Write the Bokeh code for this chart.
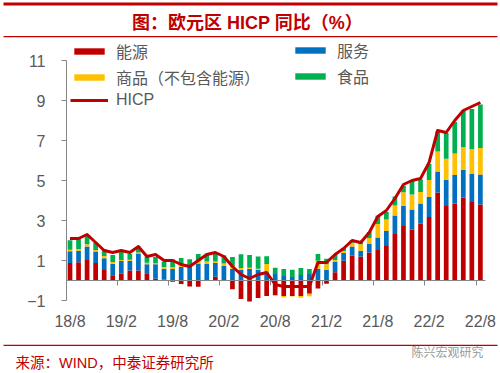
from bokeh.plotting import figure
from bokeh.models import (ColumnDataSource, Range1d, FixedTicker, LinearAxis, Legend,
                          LegendItem, Label, BoxAnnotation)
from bokeh.embed import file_html
from bokeh.resources import INLINE

# ---------------- data ----------------
months = ["18/8", "18/9", "18/10", "18/11", "18/12",
          "19/1", "19/2", "19/3", "19/4", "19/5", "19/6", "19/7", "19/8", "19/9", "19/10", "19/11", "19/12",
          "20/1", "20/2", "20/3", "20/4", "20/5", "20/6", "20/7", "20/8", "20/9", "20/10", "20/11", "20/12",
          "21/1", "21/2", "21/3", "21/4", "21/5", "21/6", "21/7", "21/8", "21/9", "21/10", "21/11", "21/12",
          "22/1", "22/2", "22/3", "22/4", "22/5", "22/6", "22/7", "22/8"]

energy = [0.88, 0.91, 1.03, 0.87, 0.53, 0.26, 0.34, 0.50, 0.50, 0.36, 0.09, 0.05, -0.06, -0.17, -0.30, -0.31,
          0.02, 0.19, -0.03, -0.44, -0.92, -1.05, -0.87, -0.78, -0.74, -0.77, -0.77, -0.78, -0.66, -0.40, -0.16,
          0.41, 0.99, 1.24, 1.20, 1.40, 1.53, 1.72, 2.33, 2.72, 2.55, 2.85, 3.17, 4.40, 3.72, 3.85, 4.15, 3.93, 3.80]
services = [0.58, 0.58, 0.67, 0.58, 0.58, 0.58, 0.63, 0.49, 0.85, 0.45, 0.72, 0.54, 0.58, 0.67, 0.67, 0.85,
            0.80, 0.68, 0.72, 0.59, 0.54, 0.59, 0.54, 0.41, 0.32, 0.23, 0.18, 0.27, 0.32, 0.59, 0.54,
            0.54, 0.38, 0.46, 0.29, 0.43, 0.62, 0.75, 0.92, 1.02, 1.00, 1.00, 1.02, 1.05, 1.32, 1.42, 1.38, 1.40, 1.50]
goods = [0.08, 0.08, 0.11, 0.08, 0.11, 0.08, 0.05, 0.05, 0.05, 0.08, 0.05, 0.08, 0.08, 0.08, 0.08, 0.11,
         0.13, 0.08, 0.13, 0.13, 0.08, 0.05, 0.05, 0.42, -0.03, -0.08, -0.03, -0.08, -0.13, 0.40, 0.27,
         0.08, 0.11, 0.19, 0.32, 0.30, 0.67, 0.58, 0.50, 0.67, 0.75, 0.58, 0.83, 1.00, 1.05, 1.08, 1.13, 1.25, 1.33]
food = [0.47, 0.51, 0.43, 0.37, 0.35, 0.35, 0.45, 0.29, 0.29, 0.31, 0.31, 0.27, 0.39, 0.37, 0.31, 0.37,
        0.39, 0.42, 0.40, 0.46, 0.69, 0.63, 0.61, 0.38, 0.32, 0.34, 0.36, 0.36, 0.25, 0.33, 0.28,
        0.24, 0.15, 0.13, 0.11, 0.30, 0.42, 0.38, 0.45, 0.33, 0.70, 0.62, 0.80, 1.00, 1.29, 1.58, 1.83, 2.00, 2.17]
hicp = [2.1, 2.1, 2.3, 1.9, 1.5, 1.4, 1.5, 1.4, 1.7, 1.2, 1.3, 1.0, 1.0, 0.8, 0.7, 1.0,
        1.3, 1.4, 1.2, 0.7, 0.3, 0.1, 0.3, 0.4, -0.2, -0.3, -0.3, -0.3, -0.3, 0.9, 0.9,
        1.3, 1.6, 2.0, 1.9, 2.4, 3.2, 3.5, 4.1, 4.8, 5.0, 5.1, 5.9, 7.5, 7.4, 8.0, 8.5, 8.7, 8.9]

series_names = ["能源", "服务", "商品（不包含能源）", "食品"]
series_colors = ["#C00000", "#0070C0", "#FFC000", "#00B050"]
line_name = "HICP"
line_color = "#C00000"

tick_labels = ["18/8", "19/2", "19/8", "20/2", "20/8", "21/2", "21/8", "22/2", "22/8"]
y_ticks = [-1, 1, 3, 5, 7, 9, 11]

title_text = "图：欧元区 HICP 同比（%）"
source_text = "来源：WIND，中泰证券研究所"
mark_text = "陈兴宏观研究"

FONT = "Liberation Sans, Noto Sans CJK SC"
RED = "#C00000"
GREY = "#595959"
AXIS = "#868686"

# ---------------- layout constants (pixels) ----------------
W, H = 500, 373
PX0, PXSTEP = 69.5, 8.55      # pixel of first bar, pixels per month
PY0, PYSTEP = 280.0, 20.0     # pixel of value 0, pixels per unit

n = len(months)
xs = list(range(n))

x_start = (0 - PX0) / PXSTEP
x_end = (W - PX0) / PXSTEP
y_end = PY0 / PYSTEP
y_start = (PY0 - H) / PYSTEP
x_axis_pos = (66 - PX0) / PXSTEP   # y-axis line location

p = figure(width=W, height=H, x_range=Range1d(x_start, x_end), y_range=Range1d(y_start, y_end),
           output_backend="svg", toolbar_location=None,
           x_axis_location=None, y_axis_location=None,
           min_border=0, min_border_left=0, min_border_right=0, min_border_top=0, min_border_bottom=0)
p.outline_line_color = None
p.grid.visible = False
p.background_fill_color = "white"
p.border_fill_color = "white"

pos = [0.0] * n
neg = [0.0] * n
rends = []
for vals, col in zip([energy, services, goods, food], series_colors):
    b, t = [], []
    for i, v in enumerate(vals):
        if v >= 0:
            b.append(pos[i]); pos[i] += v; t.append(pos[i])
        else:
            b.append(neg[i]); neg[i] += v; t.append(neg[i])
    src = ColumnDataSource(dict(x=xs, bottom=b, top=t))
    rends.append(p.vbar(x="x", bottom="bottom", top="top", width=0.55, fill_color=col,
                        line_color=None, source=src))

r_line = p.line(xs, hicp, line_color=line_color, line_width=3, line_join="round")

# ---------------- axes (fixed inside the frame) ----------------
label_idx = [months.index(l) for l in tick_labels]
xa = LinearAxis(fixed_location=y_ticks[0], ticker=FixedTicker(ticks=label_idx),
                major_label_overrides={i: l for i, l in zip(label_idx, tick_labels)},
                axis_line_color=None, major_tick_line_color=None, minor_tick_line_color=None,
                major_tick_out=0, major_tick_in=0, minor_tick_out=0, minor_tick_in=0,
                major_label_standoff=12, major_label_text_font=FONT,
                major_label_text_font_size="16px", major_label_text_color=GREY)
p.add_layout(xa, "below")

sep_ticks = [i - 0.5 for i in label_idx[1:]]
zax = LinearAxis(fixed_location=0, ticker=FixedTicker(ticks=sep_ticks), bounds=(x_axis_pos, n - 0.41),
                 major_tick_out=5, major_tick_in=0, minor_tick_out=0, minor_tick_in=0,
                 axis_line_color=AXIS, major_tick_line_color=AXIS, minor_tick_line_color=None,
                 major_label_text_font_size="0px", major_label_text_color=None)
p.add_layout(zax, "below")

ya = LinearAxis(fixed_location=x_axis_pos, ticker=FixedTicker(ticks=y_ticks), bounds=(y_ticks[0], y_ticks[-1]),
                axis_line_color=AXIS, major_tick_line_color=AXIS, minor_tick_line_color=None,
                major_tick_out=5, major_tick_in=0, minor_tick_out=0, minor_tick_in=0,
                major_label_standoff=16, major_label_text_font=FONT,
                major_label_text_font_size="16px", major_label_text_color=GREY)
p.add_layout(ya, "left")

# ---------------- legends ----------------
leg_kw = dict(orientation="vertical", glyph_width=38, glyph_height=8, label_height=8, spacing=2,
              padding=0, margin=0, border_line_color=None, background_fill_alpha=0,
              label_text_font=FONT, label_text_font_size="16px", label_text_color=GREY,
              label_standoff=8)
leg1 = Legend(items=[LegendItem(label=series_names[0], renderers=[rends[0]]),
                     LegendItem(label=series_names[2], renderers=[rends[2]]),
                     LegendItem(label=line_name, renderers=[r_line])],
              location=(70, H - 109), **leg_kw)
leg2 = Legend(items=[LegendItem(label=series_names[1], renderers=[rends[1]]),
                     LegendItem(label=series_names[3], renderers=[rends[3]])],
              location=(291, H - 88), **leg_kw)
p.add_layout(leg1)
p.add_layout(leg2)

# ---------------- decorations (screen units: x = page x, y = H - page y) ----------------
def hline(page_top, page_bot):
    return BoxAnnotation(left=3, right=497, top=H - page_top, bottom=H - page_bot,
                         left_units="screen", right_units="screen", top_units="screen", bottom_units="screen",
                         fill_color=RED, fill_alpha=1, line_color=None)

p.add_layout(hline(2, 5))
p.add_layout(hline(35.5, 36.8))
p.add_layout(hline(344.3, 345.6))

p.add_layout(Label(x=247, y=H - 22, x_units="screen", y_units="screen", text=title_text,
                   text_align="center", text_baseline="middle", text_font=FONT,
                   text_font_size="18px", text_font_style="bold", text_color=RED))
p.add_layout(Label(x=15, y=H - 362, x_units="screen", y_units="screen", text=source_text,
                   text_align="left", text_baseline="middle", text_font=FONT,
                   text_font_size="14.5px", text_color=RED))
p.add_layout(Label(x=483, y=H - 352, x_units="screen", y_units="screen", text=mark_text,
                   text_align="right", text_baseline="middle", text_font=FONT,
                   text_font_size="12px", text_color="#9a9a9a"))

open("out.html", "w").write(file_html(p, INLINE))
